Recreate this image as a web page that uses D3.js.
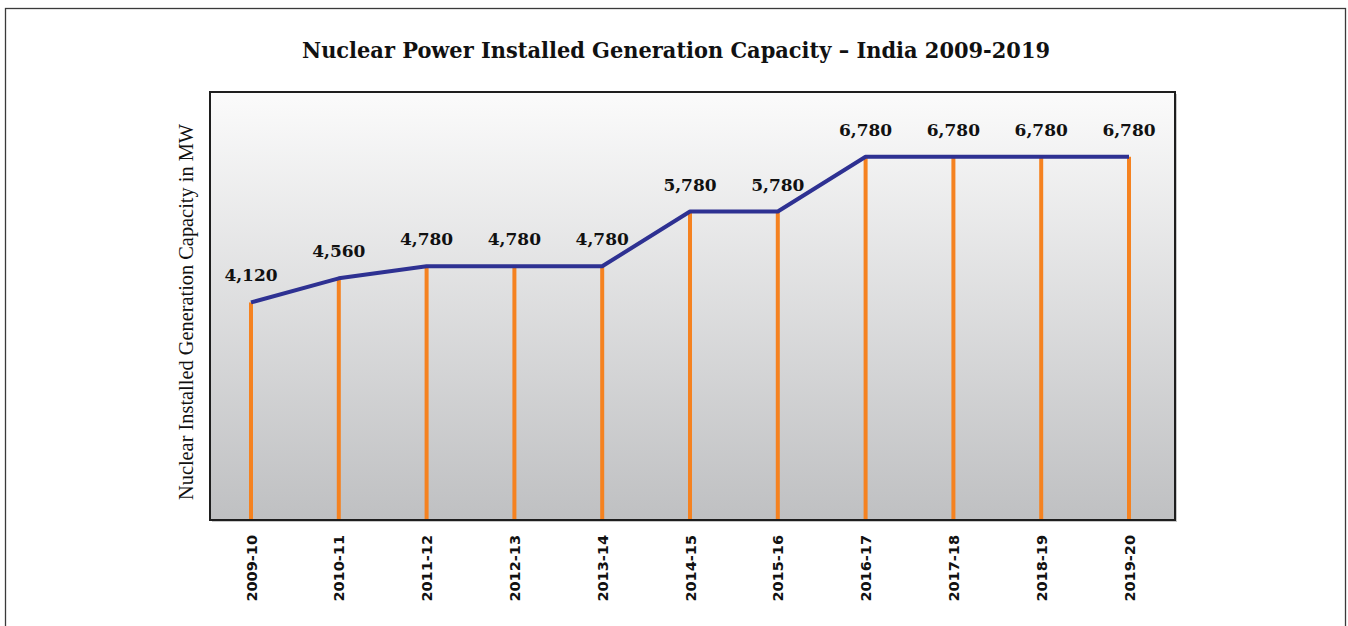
<!DOCTYPE html>
<html>
<head>
<meta charset="utf-8">
<script src="https://cdnjs.cloudflare.com/ajax/libs/d3/7.8.5/d3.min.js"></script>
<style>
  body { margin: 0; background: #fff; }
  svg { display: block; }
</style>
</head>
<body>
<div id="chart"></div>
<script>
var years = ["2009-10", "2010-11", "2011-12", "2012-13", "2013-14", "2014-15",
  "2015-16", "2016-17", "2017-18", "2018-19", "2019-20"];
var capacity = [4120, 4560, 4780, 4780, 4780, 5780, 5780, 6780, 6780, 6780, 6780];

var _width = 1348,
  _height = 626,
  _margins = { top: 92, right: 173, bottom: 106, left: 210 };

var svg = d3.select("#chart").append("svg")
  .attr("width", _width)
  .attr("height", _height);

var defs = svg.append("defs");
var grad = defs.append("linearGradient")
  .attr("id", "bg-grad")
  .attr("x1", 0).attr("y1", 0).attr("x2", 0).attr("y2", 1);
grad.append("stop").attr("offset", "0%").attr("stop-color", "#fbfbfb");
grad.append("stop").attr("offset", "100%").attr("stop-color", "#bfc0c2");

// outer frame
svg.append("rect")
  .attr("x", 5.5).attr("y", 8.5)
  .attr("width", 1340).attr("height", 640)
  .attr("fill", "none")
  .attr("stroke", "#3a3a3a")
  .attr("stroke-width", 1.3);

function visibleWidth() { return _width - _margins.left - _margins.right; }
function visibleHeight() { return _height - _margins.top - _margins.bottom; }

var x = d3.scalePoint()
  .domain(years)
  .range([41, 919]);

var y = d3.scaleLinear()
  .domain([0, 8000])
  .range([visibleHeight() + 8, -2]);

var body = svg.append("g")
  .attr("transform", "translate(" + _margins.left + "," + _margins.top + ")");

// shadow + background
body.append("rect")
  .attr("x", 2).attr("y", 2)
  .attr("width", visibleWidth()).attr("height", visibleHeight())
  .attr("fill", "#c8c8c8");
body.append("rect")
  .attr("width", visibleWidth()).attr("height", visibleHeight())
  .attr("fill", "url(#bg-grad)")
  .attr("stroke", "#1e1e1e")
  .attr("stroke-width", 2);

// drop lines
body.selectAll(".drop")
  .data(capacity)
  .enter().append("line")
  .attr("class", "drop")
  .attr("x1", function(d, i) { return x(years[i]); })
  .attr("x2", function(d, i) { return x(years[i]); })
  .attr("y1", function(d) { return y(d); })
  .attr("y2", visibleHeight() - 1)
  .attr("stroke", "#f58220")
  .attr("stroke-width", 4);

var line = d3.line()
  .x(function(d, i) { return x(years[i]); })
  .y(function(d) { return y(d); });

body.append("path")
  .datum(capacity)
  .attr("d", line)
  .attr("fill", "none")
  .attr("stroke", "#2e3192")
  .attr("stroke-width", 4)
  .attr("stroke-linejoin", "round");

// value labels
body.selectAll(".val")
  .data(capacity)
  .enter().append("text")
  .attr("class", "val")
  .attr("x", function(d, i) { return x(years[i]); })
  .attr("y", function(d) { return y(d) - 21; })
  .attr("text-anchor", "middle")
  .style("font-family", "'DejaVu Serif', serif")
  .style("font-weight", "bold")
  .style("font-size", "17px")
  .style("fill", "#111")
  .text(function(d) { return d3.format(",")(d); });

// x axis labels
var xAxis = d3.axisBottom(x).tickSize(0).tickPadding(0);
var xg = body.append("g")
  .attr("transform", "translate(0," + visibleHeight() + ")")
  .call(xAxis);
xg.select(".domain").remove();
xg.selectAll("text")
  .attr("transform", "rotate(-90)")
  .attr("x", -15)
  .attr("y", 0)
  .attr("dy", "0.35em")
  .attr("text-anchor", "end")
  .style("font-family", "'DejaVu Sans', sans-serif")
  .style("font-weight", "bold")
  .style("font-size", "14.5px")
  .style("fill", "#111");

// y axis title
svg.append("text")
  .attr("transform", "translate(193,312) rotate(-90)")
  .attr("text-anchor", "middle")
  .attr("textLength", 376)
  .attr("lengthAdjust", "spacingAndGlyphs")
  .style("font-family", "'Liberation Serif', serif")
  .style("font-size", "21px")
  .style("fill", "#111")
  .text("Nuclear Installed Generation Capacity in MW");

// title
svg.append("text")
  .attr("x", 676)
  .attr("y", 58)
  .attr("text-anchor", "middle")
  .attr("textLength", 748)
  .attr("lengthAdjust", "spacingAndGlyphs")
  .style("font-family", "'DejaVu Serif', serif")
  .style("font-weight", "bold")
  .style("font-size", "22px")
  .style("fill", "#111")
  .text("Nuclear Power Installed Generation Capacity \u2013 India 2009-2019");
</script>
</body>
</html>
